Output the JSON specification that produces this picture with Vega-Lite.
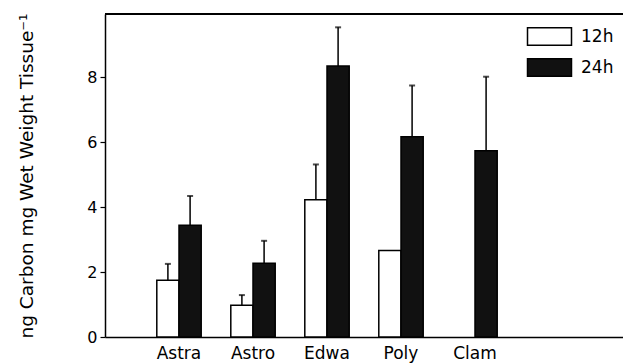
{
  "$schema": "https://vega.github.io/schema/vega-lite/v6.json",
  "autosize": "none",
  "width": 518,
  "height": 323,
  "padding": {"left": 105, "top": 14, "right": 0, "bottom": 27},
  "background": "white",
  "config": {
    "view": {"stroke": null},
    "font": "DejaVu Sans",
    "axis": {"domainColor": "black", "tickColor": "black", "labelColor": "black", "titleColor": "black", "grid": false, "domainWidth": 1.5, "tickWidth": 1.2}
  },
  "data": {
    "values": [
      {"taxon": "Astra", "time": "12h", "value": 1.75, "err": 2.25},
      {"taxon": "Astra", "time": "24h", "value": 3.44, "err": 4.34},
      {"taxon": "Astro", "time": "12h", "value": 0.98, "err": 1.29},
      {"taxon": "Astro", "time": "24h", "value": 2.27, "err": 2.96},
      {"taxon": "Edwa", "time": "12h", "value": 4.22, "err": 5.31},
      {"taxon": "Edwa", "time": "24h", "value": 8.34, "err": 9.53},
      {"taxon": "Poly", "time": "12h", "value": 2.66, "err": null},
      {"taxon": "Poly", "time": "24h", "value": 6.16, "err": 7.74},
      {"taxon": "Clam", "time": "24h", "value": 5.73, "err": 8.01}
    ]
  },
  "encoding": {
    "x": {
      "field": "taxon", "type": "nominal",
      "scale": {"domain": ["Astra", "Astro", "Edwa", "Poly", "Clam", " "], "paddingInner": 0.4, "paddingOuter": 0.7},
      "axis": {"title": null, "labelAngle": 0, "ticks": false, "labelFontSize": 17, "labelPadding": 8, "domainWidth": 1.5}
    },
    "xOffset": {"field": "time", "type": "nominal", "scale": {"domain": ["12h", "24h"]}}
  },
  "layer": [
    {
      "mark": {"type": "rule", "stroke": "black", "strokeWidth": 1.5},
      "encoding": {
        "y": {"field": "value", "type": "quantitative"},
        "y2": {"field": "err"}
      }
    },
    {
      "mark": {"type": "tick", "color": "black", "size": 6, "thickness": 2},
      "encoding": {
        "y": {"field": "err", "type": "quantitative"}
      }
    },
    {
      "mark": {"type": "bar", "stroke": "black", "strokeWidth": 1.5},
      "encoding": {
        "y": {
          "field": "value", "type": "quantitative",
          "scale": {"domain": [0, 9.94], "nice": false},
          "axis": {
            "title": "ng Carbon mg Wet Weight Tissue⁻¹",
            "values": [0, 2, 4, 6, 8],
            "tickSize": 5, "labelPadding": 3, "labelFontSize": 16,
            "titleFontSize": 18.5, "titleFontWeight": "normal", "titlePadding": 50
          }
        },
        "fill": {
          "field": "time", "type": "nominal",
          "scale": {"domain": ["12h", "24h"], "range": ["white", "#111111"]},
          "legend": {
            "title": null, "orient": "none", "legendX": 429, "legendY": 7,
            "symbolType": "M-1.5,-0.6H1.5V0.6H-1.5Z", "symbolSize": 860,
            "symbolStrokeColor": "black", "symbolStrokeWidth": 1.5,
            "labelFontSize": 17, "labelColor": "black", "labelOffset": 16, "rowPadding": 3
          }
        }
      }
    },
    {
      "mark": {"type": "rule", "stroke": "black", "strokeWidth": 1.5},
      "encoding": {
        "y": {"datum": 9.94},
        "x": {"value": 0},
        "x2": {"value": 518},
        "xOffset": null
      }
    }
  ]
}
